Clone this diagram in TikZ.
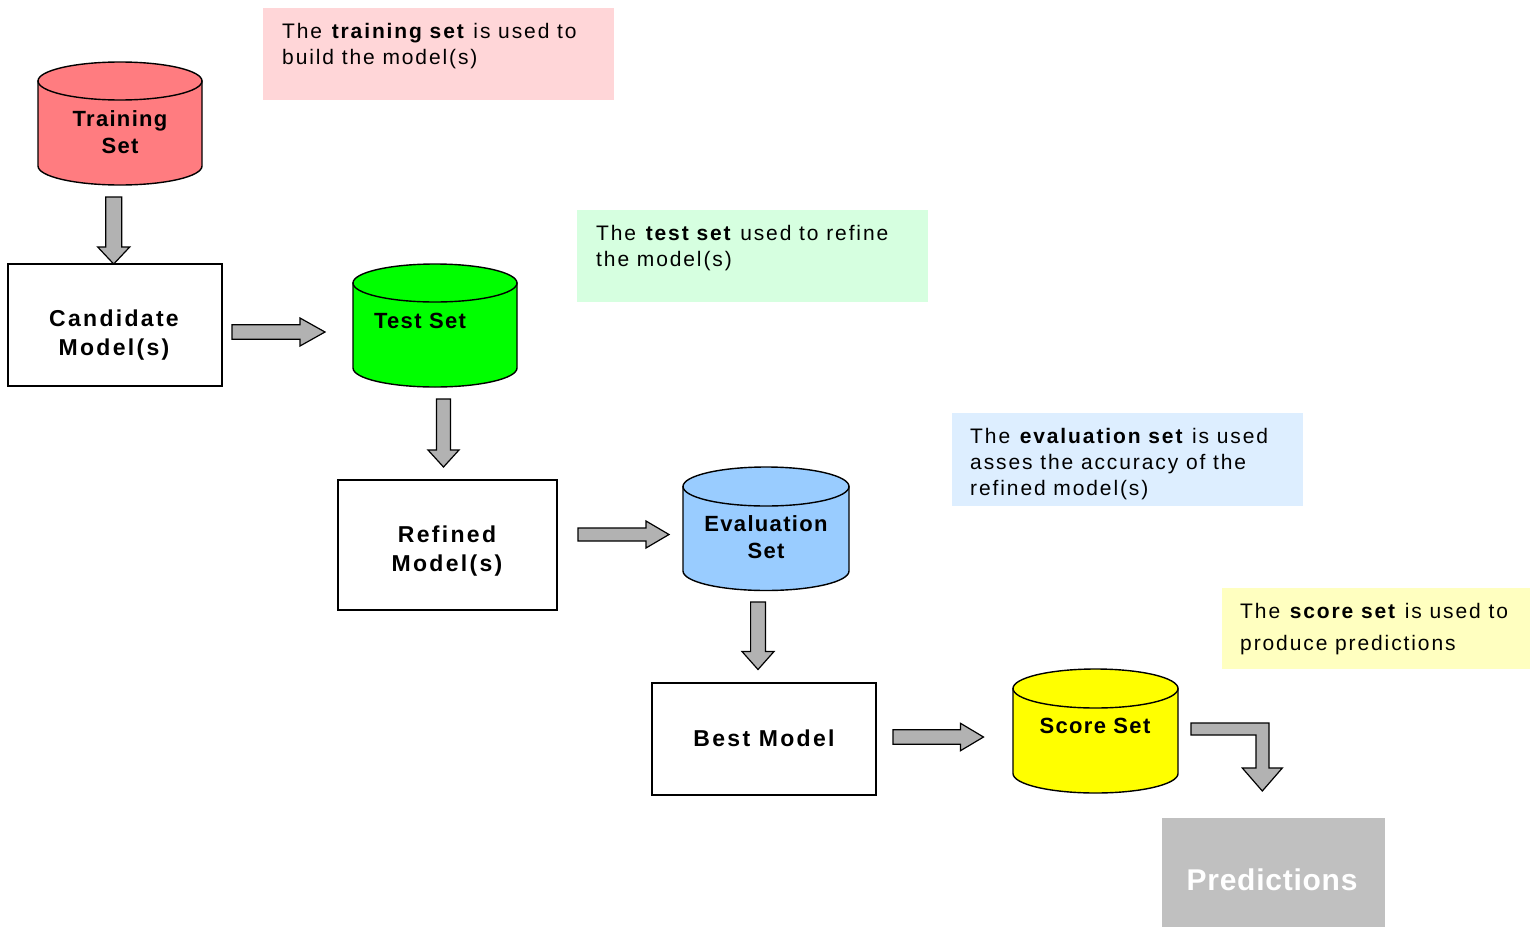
\documentclass[tikz,border=0pt]{standalone}
\usepackage{fontspec}
\setmainfont{Liberation Sans}
\newfontfamily\annfont{Liberation Sans}[LetterSpace=9]
\newfontfamily\boxfont{Liberation Sans}[LetterSpace=10]
\newfontfamily\cylfont{Liberation Sans}[LetterSpace=6]
\newfontfamily\predfont{Liberation Sans}[LetterSpace=2.5]
\definecolor{cylred}{HTML}{FF7C80}
\definecolor{cylgreen}{HTML}{00FF00}
\definecolor{cylblue}{HTML}{99CCFF}
\definecolor{cylyellow}{HTML}{FFFF00}
\definecolor{arrgray}{HTML}{B2B2B2}
\definecolor{predgray}{HTML}{C0C0C0}
\definecolor{notepink}{HTML}{FFD6D8}
\definecolor{notegreen}{HTML}{D6FFE0}
\definecolor{noteblue}{HTML}{DDEEFF}
\definecolor{noteyellow}{HTML}{FFFFC0}
\tikzset{
  cylline/.style={draw=black, line width=1.4pt},
  blk/.style={draw=black, fill=arrgray, line width=1.2pt, line join=miter},
  modelbox/.style={draw=black, line width=1.6pt, fill=white, inner sep=0pt},
  boxlabel/.style={font=\boxfont\bfseries\fontsize{23}{29}\selectfont, align=center, inner sep=0pt},
  cyllabel/.style={font=\cylfont\bfseries\fontsize{22}{27}\selectfont, align=center, inner sep=0pt},
  notebox/.style={draw=none, inner sep=0pt, anchor=north west},
  annot/.style={font=\annfont\fontsize{21}{26}\selectfont, align=left, inner sep=0pt, anchor=north west},
}
% #1 name, #2 cx, #3 top, #4 bottom, #5 rx, #6 ry, #7 colour
\newcommand\dbcyl[7]{%
  \node[inner sep=0pt, minimum width={2*#5}, minimum height={#4-#3}] (#1) at ({#2},{(#3+#4)/2}) {};
  \draw[cylline, fill=#7] ({#2-#5},{#3+#6}) -- ({#2-#5},{#4-#6})
     arc[start angle=180, end angle=0, x radius=#5, y radius=#6]
     -- ({#2+#5},{#3+#6}) -- cycle;
  \draw[cylline, fill=#7] ({#2},{#3+#6}) ellipse[x radius=#5, y radius=#6];
}
% right block arrow: x1 x2 yc shafthalf headhalf headlen
\newcommand\rarr[6]{%
  \draw[blk] ({#1},{#3-#4}) -- ({#2-#6},{#3-#4}) -- ({#2-#6},{#3-#5}) -- ({#2},{#3})
    -- ({#2-#6},{#3+#5}) -- ({#2-#6},{#3+#4}) -- ({#1},{#3+#4}) -- cycle;}
% down block arrow: xc y1 y2 shafthalf headhalf headlen
\newcommand\darr[6]{%
  \draw[blk] ({#1-#4},{#2}) -- ({#1-#4},{#3-#6}) -- ({#1-#5},{#3-#6}) -- ({#1},{#3})
    -- ({#1+#5},{#3-#6}) -- ({#1+#4},{#3-#6}) -- ({#1+#4},{#2}) -- cycle;}
\begin{document}
\begin{tikzpicture}[x=1pt, y=1pt, yscale=-1]
\useasboundingbox[fill=white] (0,0) rectangle (1530,926);

% annotation boxes
\node[notebox, fill=notepink, minimum width=351, minimum height=92] (npink) at (263,8) {};
\node[annot] (tpink) at (282,23.3) {The \textbf{training set} is used to\\build the model(s)};
\node[notebox, fill=notegreen, minimum width=351, minimum height=92] (ngreen) at (577,210) {};
\node[annot] (tgreen) at (596,225.3) {The \textbf{test set} used to refine\\the model(s)};
\node[notebox, fill=noteblue, minimum width=351, minimum height=93] (nblue) at (952,413) {};
\node[annot] (tblue) at (970,428.3) {The \textbf{evaluation set} is used\\asses the accuracy of the\\refined model(s)};
\node[notebox, fill=noteyellow, minimum width=308, minimum height=81] (nyellow) at (1222,588) {};
\node[annot, font=\annfont\fontsize{21}{32}\selectfont] (tyellow) at (1240,603.3) {The \textbf{score set} is used to\\produce predictions};

% cylinders
\dbcyl{train}{120}{62}{185}{82}{19}{cylred}
\node[cyllabel] (trainT) at (120,132) {Training\\Set};
\dbcyl{test}{435}{264}{387}{82}{19}{cylgreen}
\node[cyllabel] (testT) at (420,321) {Test Set};
\dbcyl{eval}{766}{467}{590.5}{83}{19.5}{cylblue}
\node[cyllabel] (evalT) at (766,537) {Evaluation\\Set};
\dbcyl{score}{1095.5}{669}{793}{82.5}{19.5}{cylyellow}
\node[cyllabel] (scoreT) at (1095,726) {Score Set};

% model boxes
\node[modelbox, minimum width=214, minimum height=122] (cand) at (115,325) {};
\node[boxlabel] (candT) at (114,335) {Candidate\\Model(s)};
\node[modelbox, minimum width=219, minimum height=130] (ref) at (447.5,545) {};
\node[boxlabel] (refT) at (447,551) {Refined\\Model(s)};
\node[modelbox, minimum width=224, minimum height=112] (best) at (764,739) {};
\node[boxlabel] (bestT) at (764,738) {Best Model};

% predictions
\node[notebox, fill=predgray, minimum width=223, minimum height=110] (pred) at (1162,818) {};
\node[font=\predfont\bfseries\fontsize{30}{32}\selectfont, text=white, inner sep=0pt] (predT) at (1272,880) {Predictions};

% block arrows
\darr{113.7}{197}{264}{8}{16}{17}
\rarr{232}{325}{332}{7.3}{14}{25}
\darr{443.5}{399}{467}{7}{15.5}{17}
\rarr{578}{669}{534.5}{6.5}{13.5}{23}
\darr{758}{602}{669.5}{7.4}{16}{18}
\rarr{893}{983.5}{737}{7.3}{13.7}{23}
\draw[blk] (1191,723) -- (1269,723) -- (1269,768) -- (1282.3,768) -- (1262.3,791)
  -- (1242.3,768) -- (1256,768) -- (1256,735) -- (1191,735) -- cycle;
\end{tikzpicture}
\end{document}
